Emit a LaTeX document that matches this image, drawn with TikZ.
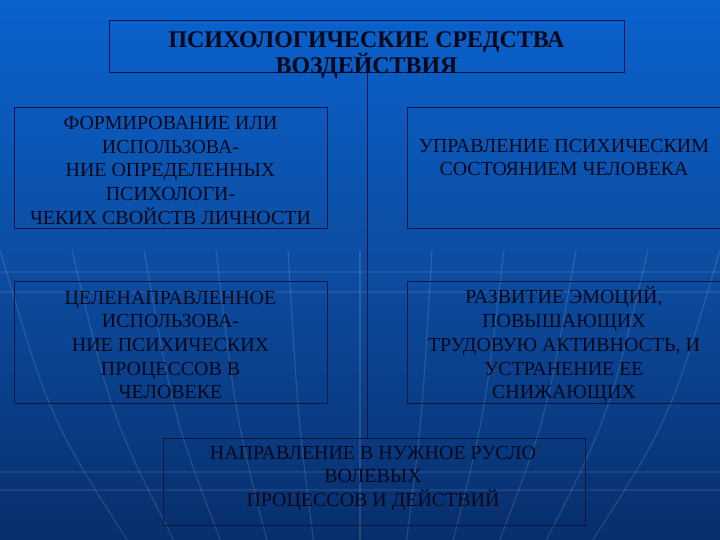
\documentclass[tikz,border=0pt]{standalone}
\usepackage{fontspec}
\setmainfont{Liberation Serif}
\usepackage{tikz}
\definecolor{skytop}{RGB}{10,98,206}
\definecolor{skymid}{RGB}{12,76,160}
\definecolor{skylow}{RGB}{8,46,108}
\definecolor{frameline}{RGB}{10,22,70}
\definecolor{ink}{RGB}{5,8,26}
\newcommand*{\boxfont}{\fontsize{20}{23.8}\selectfont}
\newcommand*{\headfont}{\bfseries\fontsize{24}{26}\selectfont}

\begin{document}
\begin{tikzpicture}[x=1bp, y=-1bp,
    frame/.style={draw=frameline, line width=0.9bp, inner sep=0pt},
    boxtext/.style={text=ink, align=center, font=\boxfont, inner sep=0pt},
    glow/.style={draw=white, opacity=0.12, line width=1.2bp}]

        \shade[top color=skytop, bottom color=skylow, middle color=skymid]
          (0,0) rectangle (720,540);
        \useasboundingbox (0,0) rectangle (720,540);

        \foreach \k in {-5, ..., 5}
        {
          \draw[glow] (360+\k*72, 250) .. controls (360+\k*62, 420) .. (360+\k*44, 560);
        }
        \foreach \h in {272, 292, 472, 490}
        {
          \draw[glow, opacity=0.07] (0, \h) -- (720, \h);
        }

        \node[frame, minimum width=515bp, minimum height=52bp] (head) at (366.5, 46) {};
        \node[frame, minimum width=313bp, minimum height=121bp] (form) at (170.5, 167.5) {};
        \node[frame, minimum width=314bp, minimum height=121bp] (state) at (564, 167.5) {};
        \node[frame, minimum width=313bp, minimum height=122bp] (proc) at (170.5, 342) {};
        \node[frame, minimum width=314bp, minimum height=122bp] (emot) at (564, 342) {};
        \node[frame, minimum width=422bp, minimum height=87bp] (will) at (374, 481.5) {};

        \draw[frameline, line width=0.9bp] (head.south -| 367, 0) -- (will.north -| 367, 0);

        \node[boxtext, font=\headfont] (headtext) at ([yshift=-9bp]head.center)
          {ПСИХОЛОГИЧЕСКИЕ СРЕДСТВА\\ВОЗДЕЙСТВИЯ};
        \node[boxtext] (formtext) at ([yshift=-3bp]form.center)
          {ФОРМИРОВАНИЕ ИЛИ\\ИСПОЛЬЗОВА-\\НИЕ ОПРЕДЕЛЕННЫХ\\ПСИХОЛОГИ-\\ЧЕКИХ СВОЙСТВ ЛИЧНОСТИ};
        \node[boxtext] (statetext) at ([yshift=10bp]state.center)
          {УПРАВЛЕНИЕ ПСИХИЧЕСКИМ\\СОСТОЯНИЕМ ЧЕЛОВЕКА};
        \node[boxtext] (proctext) at ([yshift=-3bp]proc.center)
          {ЦЕЛЕНАПРАВЛЕННОЕ\\ИСПОЛЬЗОВА-\\НИЕ ПСИХИЧЕСКИХ\\ПРОЦЕССОВ В\\ЧЕЛОВЕКЕ};
        \node[boxtext] (emottext) at ([yshift=-3bp]emot.center)
          {РАЗВИТИЕ ЭМОЦИЙ,\\ПОВЫШАЮЩИХ\\ТРУДОВУЮ АКТИВНОСТЬ, И\\УСТРАНЕНИЕ ЕЕ\\СНИЖАЮЩИХ};
        \node[boxtext] (willtext) at ([xshift=-1bp, yshift=3bp]will.center)
          {НАПРАВЛЕНИЕ В НУЖНОЕ РУСЛО\\ВОЛЕВЫХ\\ПРОЦЕССОВ И ДЕЙСТВИЙ};
      \end{tikzpicture}
\end{document}
